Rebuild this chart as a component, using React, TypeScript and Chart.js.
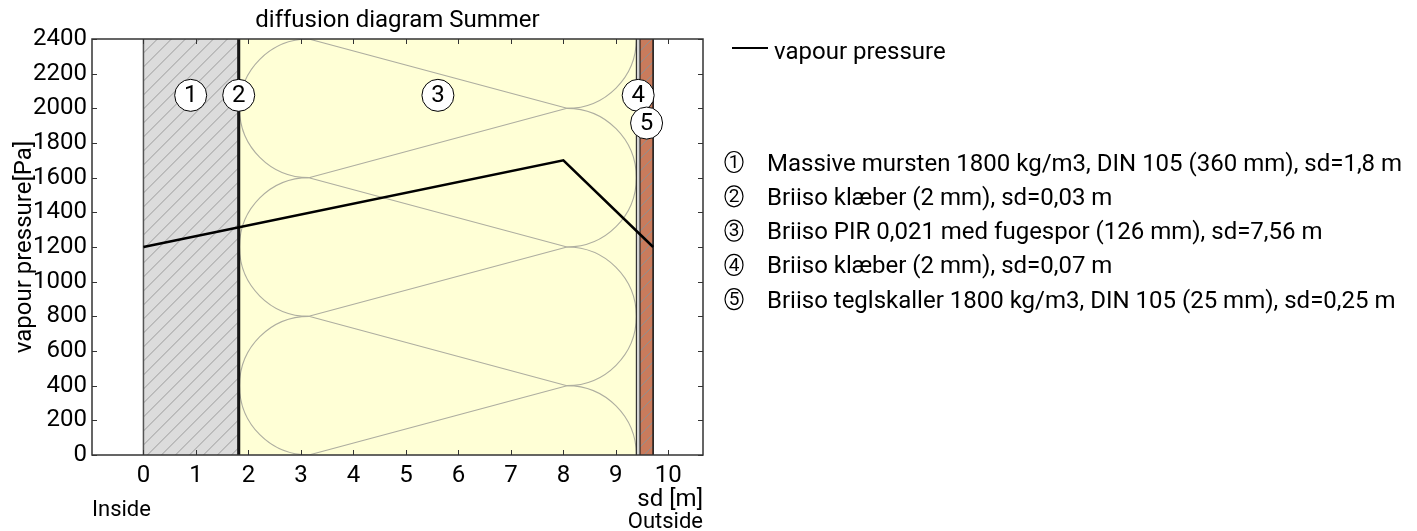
import React, { useEffect, useRef } from "react";
import { Chart, registerables } from "chart.js";

Chart.register(...registerables);

// ---------- data ----------
const chartTitle = "diffusion diagram Summer";
const yAxisTitle = "vapour pressure[Pa]";
const xAxisTitle = "sd [m]";
const insideLabel = "Inside";
const outsideLabel = "Outside";
const lineLegendLabel = "vapour pressure";

const layerNumbers = ["1", "2", "3", "4", "5"];
const layerNames = [
  "Massive mursten 1800 kg/m3, DIN 105 (360 mm), sd=1,8 m",
  "Briiso klæber (2 mm), sd=0,03 m",
  "Briiso PIR 0,021 med fugespor (126 mm), sd=7,56 m",
  "Briiso klæber (2 mm), sd=0,07 m",
  "Briiso teglskaller 1800 kg/m3, DIN 105 (25 mm), sd=0,25 m",
];
const layerSd = [1.8, 0.03, 7.56, 0.07, 0.25];
const layerMarkerPressure = [2075, 2075, 2075, 2075, 1915];

const pressureSd = [0, 8, 9.71];
const pressurePa = [1200, 1700, 1200];

const xTicks = [0, 1, 2, 3, 4, 5, 6, 7, 8, 9, 10];
const yTicks = [0, 200, 400, 600, 800, 1000, 1200, 1400, 1600, 1800, 2000, 2200, 2400];

const X_MIN = -0.98;
const X_MAX = 10.66;
const Y_MIN = 0;
const Y_MAX = 2400;

// ---------- styles ----------
const FONT = "Roboto";
const INSULATION_LOOP = 800; // pattern period in Pa
const COLORS = {
  masonry: "#dcdcdc",
  masonryHatch: "#9c9c9c",
  glue: "#2a2a2a",
  insulation: "#ffffd6",
  insulationLine: "#aeaea0",
  glue2: "#d4d4d4",
  brick: "#c97b5c",
  brickHatch: "#8f8f8f",
  frame: "#333333",
};

const layerBounds: number[] = layerSd.reduce(
  (acc: number[], sd) => {
    acc.push(acc[acc.length - 1] + sd);
    return acc;
  },
  [0]
);
const layerMid = layerSd.map((_, i) => (layerBounds[i] + layerBounds[i + 1]) / 2);

function hatch(ctx: CanvasRenderingContext2D, x0: number, x1: number, top: number, bottom: number, spacing: number, color: string, width: number) {
  ctx.save();
  ctx.beginPath();
  ctx.rect(x0, top, x1 - x0, bottom - top);
  ctx.clip();
  ctx.strokeStyle = color;
  ctx.lineWidth = width;
  const h = bottom - top;
  ctx.beginPath();
  for (let s = x0 - h; s < x1 + spacing; s += spacing) {
    ctx.moveTo(s, bottom);
    ctx.lineTo(s + h, top);
  }
  ctx.stroke();
  ctx.restore();
}

function vline(ctx: CanvasRenderingContext2D, px: number, top: number, bottom: number, color: string, width: number) {
  ctx.save();
  ctx.strokeStyle = color;
  ctx.lineWidth = width;
  ctx.beginPath();
  ctx.moveTo(px, top);
  ctx.lineTo(px, bottom);
  ctx.stroke();
  ctx.restore();
}

const layersPlugin = {
  id: "layers",
  beforeDatasetsDraw(chart: any) {
    const { ctx, chartArea: ca, scales } = chart;
    const x = scales.x;
    const y = scales.y;
    const top = ca.top;
    const bottom = ca.bottom;
    const px = layerBounds.map((b) => x.getPixelForValue(b));
    ctx.save();
    ctx.beginPath();
    ctx.rect(ca.left, ca.top, ca.right - ca.left, ca.bottom - ca.top);
    ctx.clip();

    // layer 1: masonry
    ctx.fillStyle = COLORS.masonry;
    ctx.fillRect(px[0], top, px[1] - px[0], bottom - top);
    hatch(ctx, px[0], px[1], top, bottom, 14, COLORS.masonryHatch, 1);

    // layer 3: insulation
    ctx.fillStyle = COLORS.insulation;
    ctx.fillRect(px[2], top, px[3] - px[2], bottom - top);
    {
      const l = px[2];
      const rr = px[3];
      const r = Math.abs(y.getPixelForValue(0) - y.getPixelForValue(INSULATION_LOOP / 2));
      const xL = l + r;
      const xR = rr - r;
      ctx.save();
      ctx.beginPath();
      ctx.rect(l, top, rr - l, bottom - top);
      ctx.clip();
      ctx.strokeStyle = COLORS.insulationLine;
      ctx.lineWidth = 1.1;
      for (let c = -INSULATION_LOOP / 2; c <= Y_MAX + INSULATION_LOOP; c += INSULATION_LOOP) {
        ctx.beginPath();
        ctx.arc(xL, y.getPixelForValue(c), r, -Math.PI / 2, Math.PI / 2, true);
        ctx.stroke();
      }
      for (let c = -INSULATION_LOOP; c <= Y_MAX + INSULATION_LOOP; c += INSULATION_LOOP) {
        ctx.beginPath();
        ctx.arc(xR, y.getPixelForValue(c), r, -Math.PI / 2, Math.PI / 2, false);
        ctx.stroke();
      }
      for (let p = -INSULATION_LOOP; p <= Y_MAX + INSULATION_LOOP; p += INSULATION_LOOP) {
        const py = y.getPixelForValue(p);
        ctx.beginPath();
        ctx.moveTo(xL, py);
        ctx.lineTo(xR, y.getPixelForValue(p + INSULATION_LOOP / 2));
        ctx.moveTo(xL, py);
        ctx.lineTo(xR, y.getPixelForValue(p - INSULATION_LOOP / 2));
        ctx.stroke();
      }
      ctx.restore();
    }

    // layer 2: glue
    ctx.fillStyle = COLORS.glue;
    ctx.fillRect(px[1], top, px[2] - px[1], bottom - top);

    // layer 4: glue
    ctx.fillStyle = COLORS.glue2;
    ctx.fillRect(px[3], top, px[4] - px[3], bottom - top);

    // layer 5: brick slips
    ctx.fillStyle = COLORS.brick;
    ctx.fillRect(px[4], top, px[5] - px[4], bottom - top);
    hatch(ctx, px[4], px[5], top, bottom, 12, COLORS.brickHatch, 1);

    // borders
    vline(ctx, px[0], top, bottom, "#555555", 1.5);
    vline(ctx, px[1], top, bottom, "#111111", 1.5);
    vline(ctx, px[2], top, bottom, "#111111", 1.5);
    vline(ctx, px[3], top, bottom, "#111111", 1);
    vline(ctx, px[4], top, bottom, "#111111", 1);
    vline(ctx, px[5], top, bottom, "#111111", 1.5);
    ctx.restore();
  },
  afterDatasetsDraw(chart: any) {
    const { ctx, chartArea: ca, scales } = chart;
    const x = scales.x;
    const y = scales.y;
    // frame
    ctx.save();
    ctx.strokeStyle = COLORS.frame;
    ctx.lineWidth = 1.5;
    ctx.strokeRect(ca.left, ca.top, ca.right - ca.left, ca.bottom - ca.top);
    ctx.lineWidth = 1;
    ctx.beginPath();
    xTicks.forEach((v) => {
      const p = Math.round(x.getPixelForValue(v)) + 0.5;
      ctx.moveTo(p, ca.bottom);
      ctx.lineTo(p, ca.bottom - 5);
      ctx.moveTo(p, ca.top);
      ctx.lineTo(p, ca.top + 5);
    });
    yTicks.forEach((v) => {
      const p = Math.round(y.getPixelForValue(v)) + 0.5;
      ctx.moveTo(ca.left, p);
      ctx.lineTo(ca.left + 5, p);
      ctx.moveTo(ca.right, p);
      ctx.lineTo(ca.right - 5, p);
    });
    ctx.stroke();

    // layer numbers inside markers
    ctx.fillStyle = "#000";
    ctx.font = `24px ${FONT}`;
    ctx.textAlign = "center";
    ctx.textBaseline = "middle";
    layerNumbers.forEach((n, i) => {
      ctx.fillText(n, x.getPixelForValue(layerMid[i]), y.getPixelForValue(layerMarkerPressure[i]) + 1);
    });
    ctx.restore();
  },
  afterDraw(chart: any) {
    const { ctx, chartArea: ca } = chart;
    ctx.save();
    ctx.fillStyle = "#000";
    // title
    ctx.font = `24px ${FONT}`;
    ctx.textAlign = "center";
    ctx.textBaseline = "alphabetic";
    ctx.fillText(chartTitle, (ca.left + ca.right) / 2, 27);

    // y-axis title
    ctx.save();
    ctx.translate(31, (ca.top + ca.bottom) / 2);
    ctx.rotate(-Math.PI / 2);
    ctx.fillText(yAxisTitle, 0, 0);
    ctx.restore();

    // x-axis title and side labels
    ctx.textAlign = "right";
    ctx.fillText(xAxisTitle, ca.right, 506);
    ctx.font = `22px ${FONT}`;
    ctx.fillText(outsideLabel, ca.right, 528);
    ctx.textAlign = "left";
    ctx.fillText(insideLabel, ca.left, 516);

    // legend: line
    ctx.strokeStyle = "#000";
    ctx.lineWidth = 2;
    ctx.beginPath();
    ctx.moveTo(732, 48);
    ctx.lineTo(768, 48);
    ctx.stroke();
    ctx.font = `24px ${FONT}`;
    ctx.textAlign = "left";
    ctx.fillText(lineLegendLabel, 774, 59);

    // legend: layers
    layerNames.forEach((name, i) => {
      const cy = 162 + 34.3 * i;
      ctx.beginPath();
      ctx.ellipse(734, cy, 9, 10.5, 0, 0, Math.PI * 2);
      ctx.lineWidth = 1.2;
      ctx.strokeStyle = "#000";
      ctx.stroke();
      ctx.font = `19px ${FONT}`;
      ctx.textAlign = "center";
      ctx.textBaseline = "middle";
      ctx.fillText(layerNumbers[i], 734, cy + 1);
      ctx.font = `24px ${FONT}`;
      ctx.textAlign = "left";
      ctx.textBaseline = "alphabetic";
      ctx.fillText(name, 767, cy + 8.5);
    });
    ctx.restore();
  },
};

export default function App() {
  const ref = useRef<HTMLCanvasElement>(null);
  useEffect(() => {
    const canvas = ref.current!;
    const chart = new Chart(canvas, {
      type: "scatter",
      data: {
        datasets: [
          {
            label: "layers",
            data: layerMid.map((m, i) => ({ x: m, y: layerMarkerPressure[i] })),
            pointRadius: 16,
            pointBackgroundColor: "#ffffff",
            pointBorderColor: "#000000",
            pointBorderWidth: 1,
            showLine: false,
          },
          {
            label: lineLegendLabel,
            data: pressureSd.map((s, i) => ({ x: s, y: pressurePa[i] })),
            showLine: true,
            borderColor: "#000000",
            borderWidth: 2.5,
            pointRadius: 0,
            fill: false,
          },
        ],
      },
      options: {
        animation: false,
        responsive: false,
        devicePixelRatio: 1,
        layout: { padding: { left: 0, top: 39, right: 714, bottom: 0 } },
        plugins: {
          legend: { display: false },
          title: { display: false },
          tooltip: { enabled: false },
        },
        scales: {
          x: {
            type: "linear",
            min: X_MIN,
            max: X_MAX,
            grid: { display: false, drawTicks: false },
            border: { display: false },
            ticks: {
              font: { family: FONT, size: 24 },
              color: "#000",
              padding: 7,
              maxRotation: 0,
              autoSkip: false,
              callback: (v: any) => String(v),
            },
            afterBuildTicks: (s: any) => {
              s.ticks = xTicks.map((v) => ({ value: v }));
            },
            afterFit: (s: any) => {
              s.height = 76;
            },
          },
          y: {
            type: "linear",
            min: Y_MIN,
            max: Y_MAX,
            grid: { display: false, drawTicks: false },
            border: { display: false },
            ticks: {
              font: { family: FONT, size: 24 },
              color: "#000",
              padding: 5,
              autoSkip: false,
              callback: (v: any) => String(v),
            },
            afterBuildTicks: (s: any) => {
              s.ticks = yTicks.map((v) => ({ value: v }));
            },
            afterFit: (s: any) => {
              s.width = 92;
            },
          },
        },
      },
      plugins: [layersPlugin],
    } as any);
    return () => chart.destroy();
  }, []);
  return (
    <div style={{ position: "absolute", left: 0, top: 0, width: 1417, height: 531, background: "#fff" }}>
      <canvas ref={ref} width={1417} height={531} style={{ display: "block", width: 1417, height: 531 }} />
    </div>
  );
}
